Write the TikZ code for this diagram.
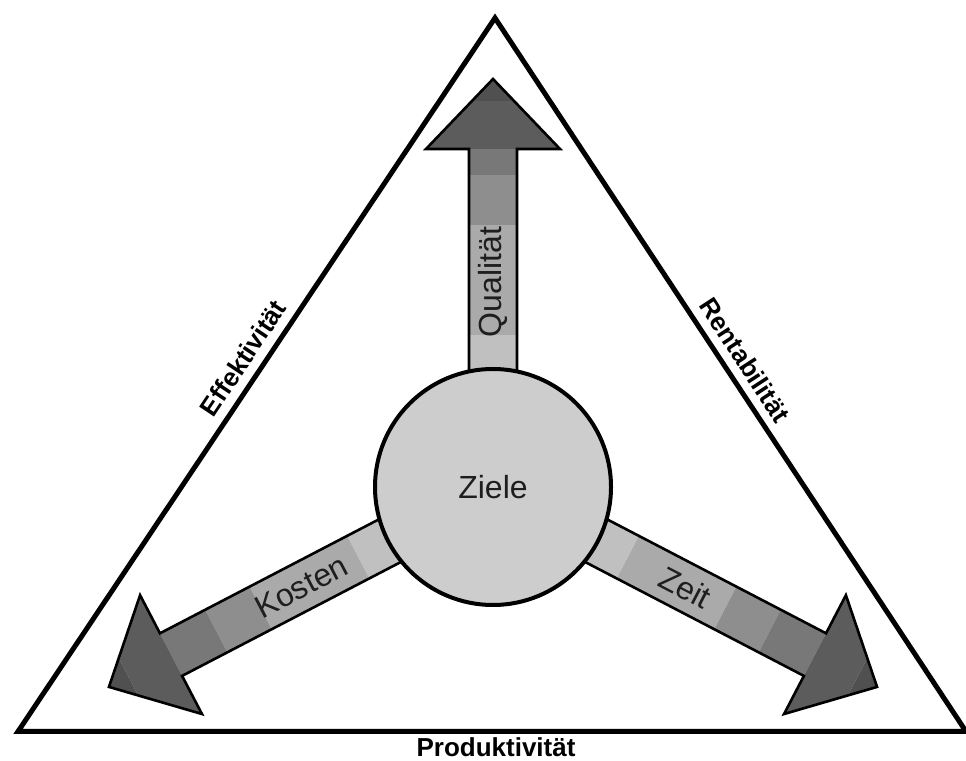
\documentclass[tikz,border=0pt]{standalone}
\usepackage{fontspec}
\setmainfont{Liberation Sans}
\definecolor{discfill}{RGB}{205,205,205}
\definecolor{bandA}{RGB}{192,192,192}
\definecolor{bandB}{RGB}{170,170,170}
\definecolor{bandC}{RGB}{142,142,142}
\definecolor{bandD}{RGB}{120,120,120}
\definecolor{headfill}{RGB}{92,92,92}
\definecolor{tipfill}{RGB}{80,80,80}
\definecolor{labelink}{RGB}{30,30,30}
\tikzset{
  arrowpath/.style={insert path={(90,-24) -- ({#1-70},-24) -- ({#1-70},-67) -- (#1,0)
      -- ({#1-70},67) -- ({#1-70},24) -- (90,24) -- cycle}},
  arrowline/.style={draw=black, line width=2.6pt, line join=miter},
  armlabel/.style={font=\fontsize{32}{36}\selectfont, text=labelink, inner sep=0pt},
  sidelabel/.style={font=\bfseries\fontsize{26}{29}\selectfont, text=black, inner sep=0pt},
}
% one shaded arm: length, band limits along the arm
\newcommand\zarm[1]{%
  \begin{scope}
    \clip[arrowpath=#1];
    \fill[bandA] (0,-80) rectangle (152,80);
    \fill[bandB] (152,-80) rectangle (262,80);
    \fill[bandC] (262,-80) rectangle (312,80);
    \fill[bandD] (312,-80) rectangle ({#1-70},80);
    \fill[headfill] ({#1-70},-80) rectangle ({#1-22},80);
    \fill[tipfill] ({#1-22},-80) rectangle ({#1+5},80);
  \end{scope}
  \path[arrowline, arrowpath=#1];}
\begin{document}
\begin{tikzpicture}[x=1pt,y=1pt]
\useasboundingbox (0,0) rectangle (966,760);
\clip (0,0) rectangle (966,760);

% outer triangle
\coordinate (apex) at (495,742);
\coordinate (bl) at (18,28.5);
\coordinate (br) at (966,28.5);
\draw[line width=5pt, line join=miter] (bl) -- (apex) -- (br) -- cycle;

% three arms leaving the central disc
\begin{scope}[shift={(493,273)}, rotate=90]
  \zarm{408}
  \node[armlabel, rotate=90] (quali) at (205,0) {Qualität};
\end{scope}
\begin{scope}[shift={(493,273)}, rotate=207.5]
  \zarm{433}
  \node[armlabel, rotate=27.5] (kosten) at (216,0) {Kosten};
\end{scope}
\begin{scope}[shift={(493,273)}, rotate=-27.5]
  \zarm{433}
  \node[armlabel, rotate=-27.5] (zeit) at (217,0) {Zeit};
\end{scope}

% central disc
\node[circle, minimum size=236pt, inner sep=0pt, fill=discfill, draw=black,
      line width=4pt, armlabel] (ziele) at (493,273) {Ziele};

% labels on the triangle sides
\node[sidelabel, rotate=56.2] (eff) at (243,402) {Effektivität};
\node[sidelabel, rotate=-56.9] (rent) at (745,400) {Rentabilität};
\node[sidelabel] (prod) at (496,13) {Produktivität};
\end{tikzpicture}
\end{document}
